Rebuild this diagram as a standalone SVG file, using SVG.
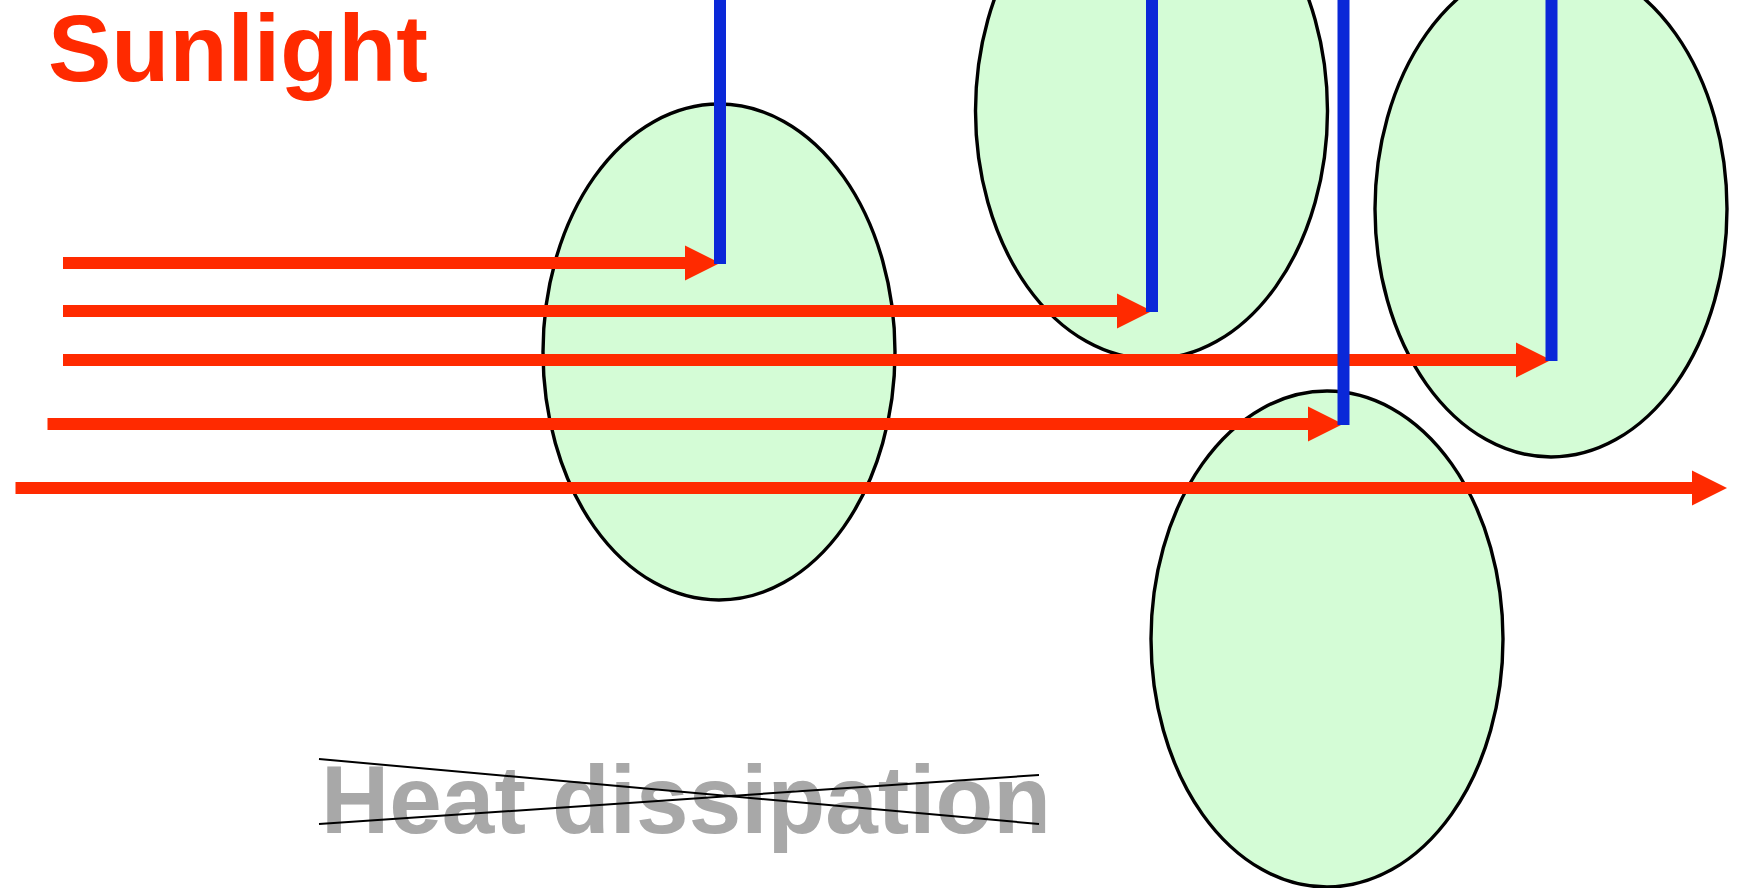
<svg xmlns="http://www.w3.org/2000/svg" width="1739" height="888" viewBox="0 0 1739 888">
<style>
.cell{fill:#d4fcd6;stroke:#000;stroke-width:3.4}
.ray{stroke:#ff2a00;stroke-width:12;fill:none;marker-end:url(#head)}
.beam{fill:#0a28d8}
.lbl{font-family:"Liberation Sans",Arial,Helvetica,sans-serif;font-weight:bold}
.cross{stroke:#000;stroke-width:2;fill:none}
</style>
<defs>
<marker id="head" markerUnits="userSpaceOnUse" markerWidth="36" markerHeight="36" refX="1" refY="17.5" orient="auto" viewBox="0 0 36 35">
<path d="M0,0 L35,17.5 L0,35 Z" fill="#ff2a00"/>
</marker>
</defs>
<rect width="1739" height="888" fill="#fff"/>
<g id="cell1"><ellipse class="cell" cx="719" cy="352" rx="176" ry="248"/></g>
<g id="cell2"><ellipse class="cell" cx="1151.5" cy="111" rx="176" ry="248"/></g>
<g id="cell3"><ellipse class="cell" cx="1551" cy="209" rx="176" ry="248"/></g>
<g id="cell4"><ellipse class="cell" cx="1327" cy="639" rx="176" ry="248"/></g>
<g id="connectors">
<line class="ray" x1="63" y1="263" x2="686" y2="263"/>
<line class="ray" x1="63" y1="311" x2="1118" y2="311"/>
<line class="ray" x1="63" y1="360" x2="1517" y2="360"/>
<line class="ray" x1="47.5" y1="424" x2="1309" y2="424"/>
<line class="ray" x1="15.5" y1="488" x2="1693" y2="488"/>
<rect class="beam" x="714" y="0" width="12" height="264"/>
<rect class="beam" x="1146" y="0" width="12" height="312"/>
<rect class="beam" x="1337.5" y="0" width="12" height="425"/>
<rect class="beam" x="1545.5" y="0" width="12" height="361"/>
</g>
<g id="sunlight"><text class="lbl" x="48" y="81" fill="#ff2a00" font-size="95">Sunlight</text></g>
<g id="heat">
<text class="lbl" x="321" y="833" fill="#a8a8a8" font-size="96" textLength="730" lengthAdjust="spacingAndGlyphs">Heat dissipation</text>
<line class="cross" x1="319" y1="759" x2="1039" y2="824"/>
<line class="cross" x1="319" y1="824" x2="1039" y2="775"/>
</g>
</svg>
